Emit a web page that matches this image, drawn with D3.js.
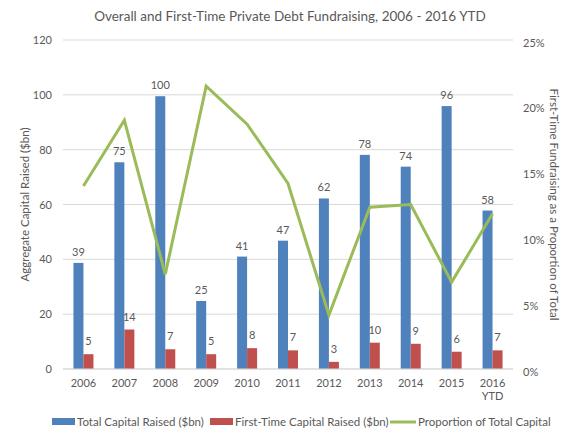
<!DOCTYPE html>
<html>
<head>
<meta charset="utf-8">
<script src="https://cdn.jsdelivr.net/npm/d3@7"></script>
<style>
  body { margin: 0; background: #fff; }
  text { font-family: Lato, "Open Sans", sans-serif; fill: #595959; }
</style>
</head>
<body>
<div id="container"></div>
<script>
// chart data
const years = ["2006", "2007", "2008", "2009", "2010", "2011", "2012", "2013", "2014", "2015", "2016 YTD"];
const totalRaised = [38.7, 75.4, 99.5, 24.8, 41.0, 46.8, 62.2, 78.1, 73.8, 95.9, 57.8];
const totalLabels = [39, 75, 100, 25, 41, 47, 62, 78, 74, 96, 58];
const firstTime = [5.4, 14.4, 7.2, 5.4, 7.6, 6.8, 2.6, 9.6, 9.2, 6.3, 6.8];
const firstLabels = [5, 14, 7, 5, 8, 7, 3, 10, 9, 6, 7];
const proportion = [0.139, 0.189, 0.072, 0.215, 0.186, 0.141, 0.041, 0.123, 0.125, 0.066, 0.118];
const leftTicks = [0, 20, 40, 60, 80, 100, 120];
const rightTicks = [0, 0.05, 0.10, 0.15, 0.20, 0.25];

const W = 580, H = 435;
const margin = {top: 40, right: 67, bottom: 66, left: 63};

const svg = d3.select("#container")
  .append("svg")
  .attr("width", W)
  .attr("height", H);

let x = d3.scaleBand()
  .domain(years)
  .range([margin.left, W - margin.right]);
let yL = d3.scaleLinear()
  .domain([0, 120])
  .range([H - margin.bottom, margin.top]);
let yR = d3.scaleLinear()
  .domain([0, 0.25])
  .range([H - margin.bottom, margin.top]);

const barW = 10;
const blue = "#4F81BD", red = "#C0504D", green = "#9BBB59";

// gridlines
svg.append("g")
  .selectAll("line")
  .data(leftTicks)
  .join("line")
  .attr("x1", margin.left)
  .attr("x2", W - margin.right)
  .attr("y1", d => yL(d))
  .attr("y2", d => yL(d))
  .attr("stroke", "#D9D9D9")
  .attr("stroke-width", 1);

// left axis
let leftAxis = svg.append("g")
  .attr("transform", `translate(${margin.left}, 0)`)
  .call(d3.axisLeft(yL).tickValues(leftTicks).tickSize(0).tickPadding(11));
leftAxis.select(".domain").remove();
leftAxis.selectAll("text").attr("font-size", 11).attr("fill", "#595959").attr("font-family", "Lato, sans-serif");

// right axis
let rightAxis = svg.append("g")
  .attr("transform", `translate(${W - margin.right}, 0)`)
  .call(d3.axisRight(yR).tickValues(rightTicks).tickFormat(d3.format(".0%")).tickSize(0).tickPadding(10));
rightAxis.select(".domain").remove();
rightAxis.selectAll("text").attr("font-size", 11).attr("fill", "#595959").attr("font-family", "Lato, sans-serif").attr("dy", "0.55em");

// x axis labels (2016 YTD on two lines)
let xLabels = svg.append("g")
  .selectAll("text")
  .data(years)
  .join("text")
  .attr("text-anchor", "middle")
  .attr("font-size", 11)
  .attr("x", d => x(d) + x.bandwidth() / 2)
  .attr("y", H - margin.bottom + 18);
xLabels.each(function(d) {
  let parts = d.split(" ");
  d3.select(this).selectAll("tspan")
    .data(parts)
    .join("tspan")
    .attr("x", x(d) + x.bandwidth() / 2)
    .attr("dy", (p, i) => i === 0 ? 0 : 13)
    .text(p => p);
});

// bars
const cx = d => x(d) + x.bandwidth() / 2;
svg.append("g")
  .selectAll("rect")
  .data(years)
  .join("rect")
  .attr("x", d => cx(d) - barW)
  .attr("width", barW)
  .attr("y", (d, i) => yL(totalRaised[i]))
  .attr("height", (d, i) => yL(0) - yL(totalRaised[i]))
  .attr("fill", blue);
svg.append("g")
  .selectAll("rect")
  .data(years)
  .join("rect")
  .attr("x", d => cx(d))
  .attr("width", barW)
  .attr("y", (d, i) => yL(firstTime[i]))
  .attr("height", (d, i) => yL(0) - yL(firstTime[i]))
  .attr("fill", red);

// bottom axis line
svg.append("line")
  .attr("x1", margin.left)
  .attr("x2", W - margin.right)
  .attr("y1", yL(0))
  .attr("y2", yL(0))
  .attr("stroke", "#D9D9D9");

// data labels
svg.append("g")
  .selectAll("text")
  .data(years)
  .join("text")
  .attr("text-anchor", "middle")
  .attr("font-size", 11)
  .attr("x", d => cx(d) - barW / 2)
  .attr("y", (d, i) => yL(totalRaised[i]) - 7)
  .text((d, i) => totalLabels[i]);
svg.append("g")
  .selectAll("text")
  .data(years)
  .join("text")
  .attr("text-anchor", "middle")
  .attr("font-size", 11)
  .attr("x", d => cx(d) + barW / 2)
  .attr("y", (d, i) => yL(firstTime[i]) - 9)
  .text((d, i) => firstLabels[i]);

// proportion line
let line = d3.line()
  .x(d => cx(d[0]))
  .y(d => yR(d[1]));
svg.append("path")
  .datum(years.map((d, i) => [d, proportion[i]]))
  .attr("d", line)
  .attr("fill", "none")
  .attr("stroke", green)
  .attr("stroke-width", 3)
  .attr("stroke-linejoin", "miter");

// title
svg.append("text")
  .attr("x", W / 2)
  .attr("y", 21)
  .attr("text-anchor", "middle")
  .attr("font-size", 13.5)
  .text("Overall and First-Time Private Debt Fundraising, 2006 - 2016 YTD");

// axis titles
svg.append("text")
  .attr("transform", `translate(25, ${(margin.top + H - margin.bottom) / 2}) rotate(-90)`)
  .attr("text-anchor", "middle")
  .attr("dy", "0.35em")
  .attr("font-size", 11.5)
  .text("Aggregate Capital Raised ($bn)");
svg.append("text")
  .attr("transform", `translate(554, ${(margin.top + H - margin.bottom) / 2}) rotate(90)`)
  .attr("text-anchor", "middle")
  .attr("dy", "0.35em")
  .attr("font-size", 11.5)
  .text("First-Time Fundraising as a Proportion of Total");

// legend
const legendItems = [
  {name: "Total Capital Raised ($bn)", color: blue, type: "rect", x: 52},
  {name: "First-Time Capital Raised ($bn)", color: red, type: "rect", x: 210},
  {name: "Proportion of Total Capital", color: green, type: "line", x: 390}
];
let legend = svg.append("g").attr("transform", "translate(0, 422)");
legendItems.forEach(item => {
  if (item.type === "rect") {
    legend.append("rect")
      .attr("x", item.x).attr("y", -4).attr("width", 23).attr("height", 7)
      .attr("fill", item.color);
  } else {
    legend.append("line")
      .attr("x1", item.x).attr("x2", item.x + 26).attr("y1", 0).attr("y2", 0)
      .attr("stroke", item.color).attr("stroke-width", 3);
  }
  legend.append("text")
    .attr("x", item.x + (item.type === "rect" ? 25 : 28))
    .attr("dy", "0.35em")
    .attr("font-size", 11.5)
    .text(item.name);
});
</script>
</body>
</html>
